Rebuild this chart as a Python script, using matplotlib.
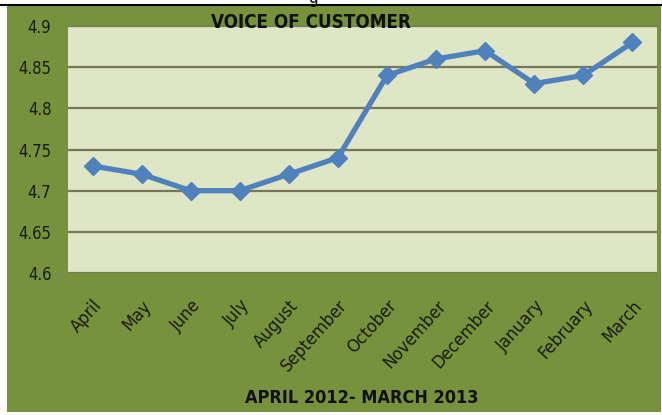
import matplotlib
matplotlib.use('Agg')
import matplotlib.pyplot as plt
from matplotlib.patches import Rectangle
from matplotlib.lines import Line2D

# data
months = ['April', 'May', 'June', 'July', 'August', 'September', 'October',
          'November', 'December', 'January', 'February', 'March']
scores = [4.73, 4.72, 4.70, 4.70, 4.72, 4.74, 4.84, 4.86, 4.87, 4.83, 4.84, 4.88]
yticks = [4.6, 4.65, 4.7, 4.75, 4.8, 4.85, 4.9]
ytick_labels = ['4.6', '4.65', '4.7', '4.75', '4.8', '4.85', '4.9']

plt.rcParams['font.family'] = ['DejaVu Sans']
plt.rcParams['font.stretch'] = 'condensed'

W, H = 662, 415
fig = plt.figure(figsize=(W / 100, H / 100), dpi=100)
fig.patch.set_facecolor('white')

# outer green chart area + black rule on top
fig.patches.append(Rectangle((7 / W, 1 - 412 / H), (661 - 7) / W, (412 - 6) / H,
                             transform=fig.transFigure, facecolor='#76923C',
                             edgecolor='none', zorder=-5))
fig.lines.append(Line2D([0, 1], [1 - 5 / H, 1 - 5 / H], transform=fig.transFigure,
                        color='black', lw=1.5, zorder=-4))
# cut-off heading text above the chart (only its bottom shows)
fig.text(0.473, 1.005, 'g', ha='center', va='center', fontsize=12, color='black')

ax = fig.add_axes([68 / W, 1 - 273 / H, (657 - 68) / W, (273 - 26) / H])
ax.set_zorder(1)
ax.set_facecolor('#DEE6C6')

x = range(len(months))
ax.plot(x, scores, color='#4F81BD', lw=3.8, marker='D', markersize=9,
        markerfacecolor='#4F81BD', markeredgecolor='#4F81BD', zorder=3,
        solid_joinstyle='round')

ax.set_xlim(-0.5, len(months) - 0.5)
ax.set_ylim(4.6, 4.9)
ax.set_yticks(yticks)
ax.set_yticklabels(ytick_labels, fontsize=12, color='#1a1a1a')
ax.set_xticks(list(x))
ax.set_xticklabels(months, rotation=48, ha='right', rotation_mode='anchor',
                   fontsize=13, color='#1a1a1a')
ax.tick_params(axis='both', length=0)
ax.tick_params(axis='y', pad=12)
ax.tick_params(axis='x', pad=17)

ax.grid(axis='y', color='#767658', lw=1.6)
ax.set_axisbelow(True)
for s in ax.spines.values():
    s.set_visible(False)

fig.text(311 / W, 1 - 22 / H, 'VOICE OF CUSTOMER', ha='center', va='center',
         fontsize=13.5, fontweight='bold', color='#111111', zorder=5)
fig.text(362 / W, 1 - 398 / H, 'APRIL 2012- MARCH 2013', ha='center', va='center',
         fontsize=13, fontweight='bold', color='#111111')

fig.savefig('out.png', dpi=100, facecolor=fig.get_facecolor())
